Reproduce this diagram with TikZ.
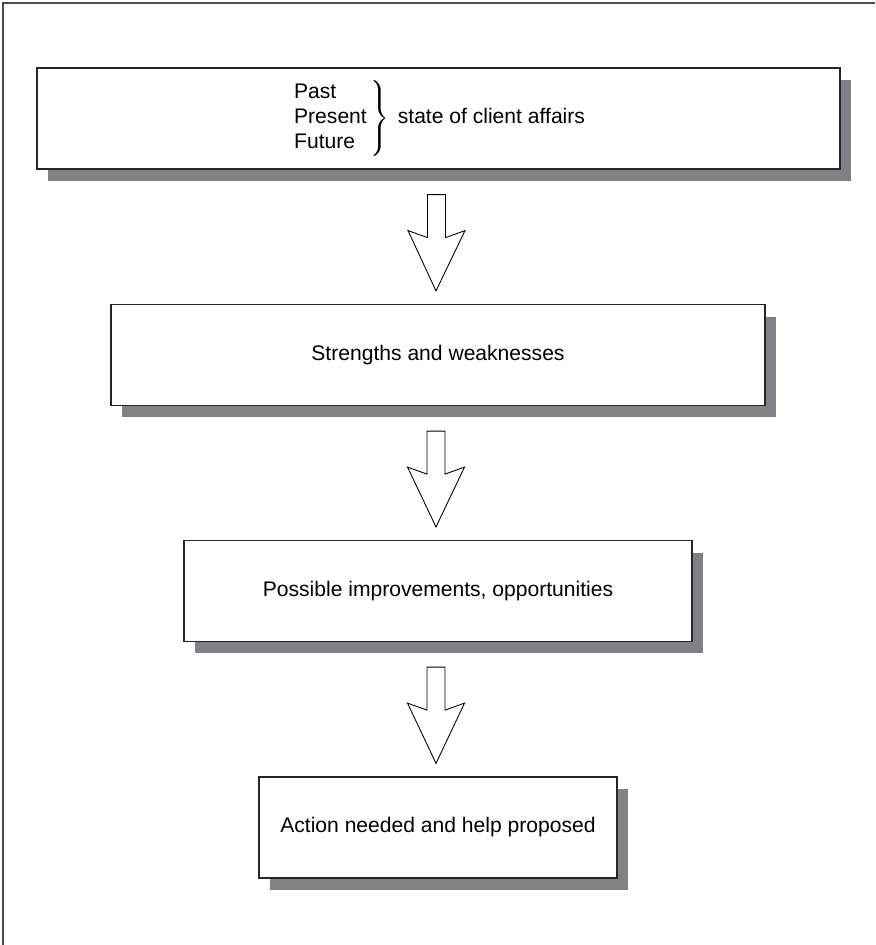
\documentclass[tikz,border=0pt]{standalone}
\usepackage{fontspec}
\setmainfont{Liberation Sans}
\usepackage{amsmath}
\usetikzlibrary{positioning,calc,shadows}
\definecolor{shadowgray}{RGB}{128,129,133}
\tikzset{
  stagebox/.style={draw=black!85, line width=0.7pt, fill=white, inner sep=0pt,
    minimum height=2.02cm, font=\fontsize{12}{14.2}\selectfont,
    drop shadow={shadow xshift=0.22cm, shadow yshift=-0.24cm, fill=shadowgray, opacity=1}},
  hollowarrow/.style={draw=black, line width=0.5pt, fill=white, line join=miter}
}

\begin{document}
\begin{tikzpicture}[x=0.02cm, y=-0.02cm]
  \useasboundingbox (0,0) rectangle (875,945);
  % frame
  \draw[gray!60!black, line width=0.6pt] (3,945) -- (3,3) -- (875,3);
  % stages
  \node[stagebox, minimum width=16.06cm] (state) at (438.5,118.5)
    {$\left.\begin{tabular}{@{}l@{}}Past\\Present\\Future\end{tabular}\,\right\}$\hspace{5pt}state of client affairs};
  \node[stagebox, minimum width=13.08cm] (sw) at (438,355) {Strengths and weaknesses};
  \node[stagebox, minimum width=10.16cm] (improve) at (438,591) {Possible improvements, opportunities};
  \node[stagebox, minimum width=7.16cm] (action) at (438,827.5) {Action needed and help proposed};
  % arrows
  \foreach \a/\b in {state/sw, sw/improve, improve/action}{
    \coordinate (top) at ($(\a.south)+(-2,25)$);
    \coordinate (tip) at ($(\b.north)+(-2,-13)$);
    \draw[hollowarrow] ($(top)+(-9,0)$) -- ($(top)+(9,0)$) -- ($(top)+(9,43)$)
      -- ($(top)+(28.5,36)$) -- (tip) -- ($(top)+(-28.5,36)$) -- ($(top)+(-9,43)$) -- cycle;
  }
\end{tikzpicture}
\end{document}
